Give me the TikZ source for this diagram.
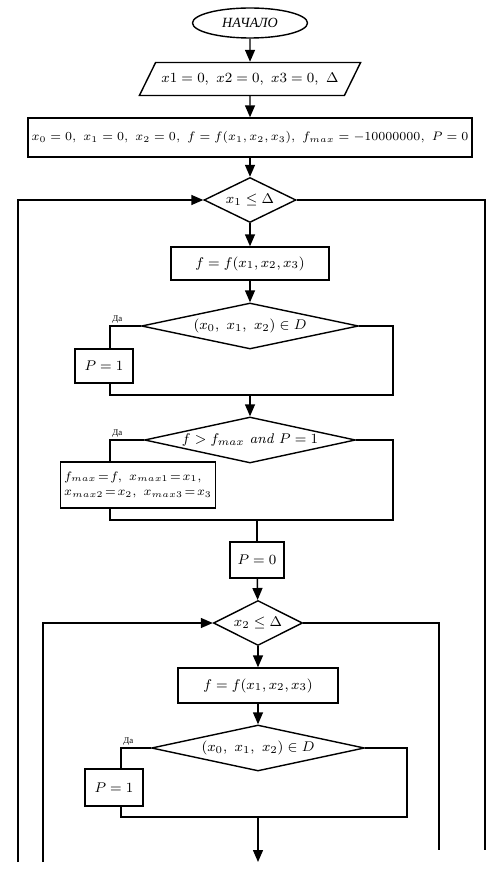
\documentclass[tikz,border=0pt]{standalone}
\usepackage{fontspec}
\newfontfamily\cyr{Liberation Serif}
\usetikzlibrary{shapes.geometric,arrows.meta}
\begin{document}
\begin{tikzpicture}[>={Triangle[length=2.4mm,width=2mm]}, x=0.02cm, y=-0.02cm, font=\footnotesize, line width=0.8pt,
    blk/.style={draw, inner sep=2pt},
    dec/.style={draw, diamond, inner sep=0pt},
    yes/.style={font=\tiny\cyr, inner sep=1pt, above right}]
        \useasboundingbox (0,0) rectangle (500,878);
        \node[draw, ellipse, minimum width=2.3cm, minimum height=0.6cm] (start) at (250,23) {\cyr\itshape НАЧАЛО};
        \node[draw, trapezium, trapezium left angle=56, trapezium right angle=124, trapezium stretches=true,
              minimum width=4cm, minimum height=0.66cm] (input) at (250,79) {$x1=0,\ x2=0,\ x3=0,\ \Delta$};
        \node[blk, minimum width=8.2cm, minimum height=0.78cm, font=\scriptsize] (init) at (250,137.5)
              {$x_0=0,\ x_1=0,\ x_2=0,\ f=f(x_1,x_2,x_3),\ f_{max}=-10000000,\ P=0$};
        \node[dec, aspect=2, minimum width=1.84cm, minimum height=0.9cm] (d1) at (250,200) {$x_1\le\Delta$};
        \node[blk, minimum width=3.16cm, minimum height=0.66cm] (f1) at (250,263.5) {$f=f(x_1,x_2,x_3)$};
        \node[dec, aspect=4.7, minimum width=4.34cm, minimum height=0.92cm] (d2) at (250,326) {$(x_0,\ x_1,\ x_2)\in D$};
        \node[blk, minimum width=1.16cm, minimum height=0.68cm] (p1) at (104,366) {$P=1$};
        \node[dec, aspect=4.6, minimum width=4.22cm, minimum height=0.92cm] (d3) at (250,440) {$f>f_{max}$ \textit{and} $P=1$};
        \node[blk, minimum width=3cm, minimum height=0.92cm, align=left, font=\scriptsize] (upd) at (138,485)
              {$\thickmuskip=2mu f_{max}=f,\ x_{max1}=x_1,$\\[1pt]$\thickmuskip=2mu x_{max2}=x_2,\ x_{max3}=x_3$};
        \node[blk, minimum width=1.08cm, minimum height=0.72cm] (p0) at (257,560) {$P=0$};
        \node[dec, aspect=2, minimum width=1.78cm, minimum height=0.9cm] (d4) at (258,623) {$x_2\le\Delta$};
        \node[blk, minimum width=3.2cm, minimum height=0.7cm] (f2) at (258,685.5) {$f=f(x_1,x_2,x_3)$};
        \node[dec, aspect=4.6, minimum width=4.26cm, minimum height=0.92cm] (d5) at (258,748) {$(x_0,\ x_1,\ x_2)\in D$};
        \node[blk, minimum width=1.16cm, minimum height=0.74cm] (p2) at (114,787.5) {$P=1$};
        \coordinate (l1) at (18,862);
        \coordinate (r1) at (485,850);
        \coordinate (l2) at (43,862);
        \coordinate (r2) at (439,850);
        \coordinate (b2l) at (110,395);
        \coordinate (b2r) at (393,395);
        \coordinate (b3l) at (110,520);
        \coordinate (b3r) at (393,520);
        \coordinate (b5l) at (121,817);
        \coordinate (b5r) at (407,817);
        \coordinate (end) at (258,862);
        \draw[->] (start) -- (input);
        \draw[->] (input) -- (init);
        \draw[->] (init) -- (d1);
        \draw[->] (l1) |- (d1.west);
        \draw (d1.east) -| (r1);
        \draw[->] (d1) -- (f1);
        \draw[->] (f1) -- (d2);
        \draw (d2.west) -| (b2l |- p1.north);
        \draw (b2l |- p1.south) -- (b2l) -- (b2r) |- (d2.east);
        \node[yes] (yes2) at (b2l |- d2.west) {Да};
        \draw[->] (b2l -| d2.south) -- (d3);
        \draw (d3.west) -| (b3l |- upd.north);
        \draw (b3l |- upd.south) -- (b3l) -- (b3r) |- (d3.east);
        \node[yes] (yes3) at (b3l |- d3.west) {Да};
        \draw (b3l -| p0.north) -- (p0);
        \draw[->] (p0) -- (d4);
        \draw[->] (l2) |- (d4.west);
        \draw (d4.east) -| (r2);
        \draw[->] (d4) -- (f2);
        \draw[->] (f2) -- (d5);
        \draw (d5.west) -| (b5l |- p2.north);
        \draw (b5l |- p2.south) -- (b5l) -- (b5r) |- (d5.east);
        \node[yes] (yes5) at (b5l |- d5.west) {Да};
        \draw[->] (b5l -| d5.south) -- (end);
    \end{tikzpicture}
\end{document}
